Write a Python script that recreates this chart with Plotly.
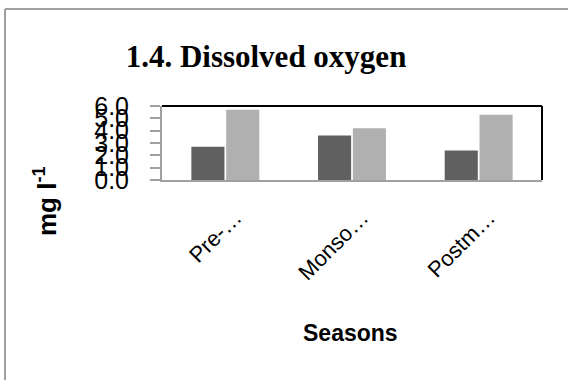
import plotly.graph_objects as go

categories = ["Pre-…", "Monso…", "Postm…"]
series_a = [2.7, 3.6, 2.4]
series_b = [5.7, 4.2, 5.3]
y_ticks = [0, 1, 2, 3, 4, 5, 6]
y_tick_labels = ["0.0", "1.0", "2.0", "3.0", "4.0", "5.0", "6.0"]

W, H = 568, 380
L, R, T, B = 162, 26, 106, 200
pw, ph = W - L - R, H - T - B

def px(x):
    return (x - L) / pw

def py(y):
    return (H - B - y) / ph

fig = go.Figure()
fig.add_trace(go.Bar(x=categories, y=series_a, marker=dict(color="#606060", line=dict(width=0)), showlegend=False))
fig.add_trace(go.Bar(x=categories, y=series_b, marker=dict(color="#b0b0b0", line=dict(width=0)), showlegend=False))

fig.update_layout(
    width=W, height=H,
    margin=dict(l=L, r=R, t=T, b=B),
    paper_bgcolor="white", plot_bgcolor="white",
    barmode="group", bargap=0.45, bargroupgap=0.05,
    title=dict(text="<b>1.4. Dissolved oxygen</b>", x=266 / W, xanchor="center",
               y=1 - 56 / H, yanchor="middle",
               font=dict(family="Liberation Serif", size=31, color="black")),
    xaxis=dict(showline=True, linecolor="#a0a0a0", linewidth=2, ticks="", tickangle=-45,
               ticklabelstandoff=14, ticklabelshift=10,
               tickfont=dict(family="Liberation Sans", size=22, color="black"),
               showgrid=False, zeroline=False, fixedrange=True),
    yaxis=dict(range=[0, 6], tickmode="array", tickvals=y_ticks, ticktext=y_tick_labels,
               showline=True, linecolor="#a0a0a0", linewidth=2, ticks="outside", ticklen=10,
               tickcolor="#a0a0a0", tickwidth=1.5, ticklabelstandoff=16,
               tickfont=dict(family="Liberation Sans", size=25, color="black"),
               showgrid=False, zeroline=False),
    showlegend=False,
)

# plot box top and right border (black)
fig.add_shape(type="line", xref="paper", yref="paper", x0=0, x1=1, y0=1, y1=1,
              line=dict(color="black", width=2))
fig.add_shape(type="line", xref="paper", yref="paper", x0=1, x1=1, y0=0, y1=1,
              line=dict(color="black", width=2))
# outer frame (gray) top and left
fig.add_shape(type="line", xref="paper", yref="paper", x0=px(5), x1=px(W + 5), y0=py(9), y1=py(9),
              line=dict(color="#a0a0a0", width=2))
fig.add_shape(type="line", xref="paper", yref="paper", x0=px(5), x1=px(5), y0=py(9), y1=py(H + 5),
              line=dict(color="#a0a0a0", width=2))

fig.add_annotation(text="<b>mg l<sup>-1</sup></b>", xref="paper", yref="paper",
                   x=px(45), y=py(201), textangle=-90, showarrow=False,
                   xanchor="center", yanchor="middle",
                   font=dict(family="Liberation Sans", size=26, color="black"))
fig.add_annotation(text="<b>Seasons</b>", xref="paper", yref="paper",
                   x=px(350), y=py(333), showarrow=False,
                   xanchor="center", yanchor="middle",
                   font=dict(family="Liberation Sans", size=23, color="black"))

fig.write_html("out.html")
